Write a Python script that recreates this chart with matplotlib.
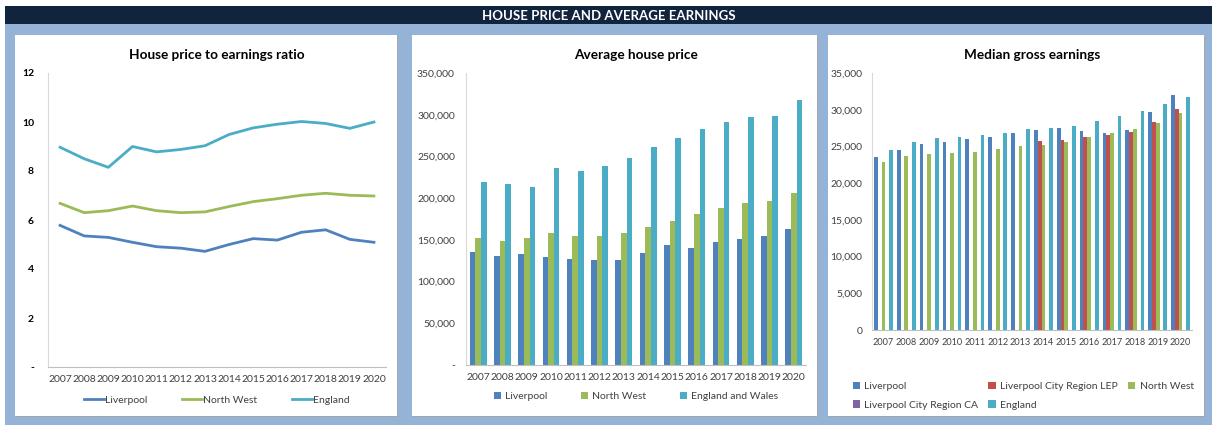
import numpy as np
import matplotlib
matplotlib.use("Agg")
import matplotlib.pyplot as plt
from matplotlib.patches import Rectangle
import matplotlib.ticker as mtick

plt.rcParams['font.family'] = ['Lato', 'DejaVu Sans']

# data
years = [str(y) for y in range(2007, 2021)]

ratio_liverpool = [5.78, 5.35, 5.29, 5.09, 4.91, 4.85, 4.72, 5.00, 5.24, 5.18, 5.50, 5.60, 5.21, 5.09]
ratio_nw = [6.68, 6.30, 6.38, 6.57, 6.38, 6.30, 6.33, 6.55, 6.75, 6.87, 7.01, 7.09, 7.01, 6.98]
ratio_england = [8.97, 8.50, 8.15, 9.00, 8.78, 8.88, 9.03, 9.49, 9.76, 9.91, 10.02, 9.94, 9.74, 10.00]

price_liverpool = [136000, 130800, 133200, 129600, 127200, 126400, 126400, 134000, 144000, 140000, 147600, 151600, 154400, 163200]
price_nw = [152400, 149200, 152400, 158400, 154400, 154800, 158400, 165200, 172800, 180400, 188000, 194000, 196800, 206400]
price_ew = [219200, 217200, 213200, 236000, 232400, 238400, 247600, 261200, 272000, 282800, 291200, 297200, 298800, 318000]

earn_liverpool = [23590, 24500, 25270, 25640, 26050, 26230, 26770, 27180, 27550, 27090, 26860, 27270, 29680, 32050]
earn_lep = [np.nan] * 7 + [25770, 25910, 26270, 26590, 26950, 28320, 30140]
earn_nw = [22910, 23730, 24000, 24140, 24230, 24590, 25090, 25230, 25640, 26230, 26820, 27410, 28140, 29590]
earn_ca = [np.nan] * 14
earn_england = [24500, 25550, 26140, 26320, 26500, 26770, 27360, 27450, 27820, 28500, 29090, 29860, 30730, 31770]

C_LIV = '#4F81BD'
C_LEP = '#C0504D'
C_NW = '#9BBB59'
C_CA = '#8064A2'
C_ENG = '#4BACC6'
TXT = '#404040'

W, H = 1212, 425
fig = plt.figure(figsize=(W / 100, H / 100), dpi=100)
fig.patch.set_facecolor('white')


def box(x0, y0, x1, y1):
    # pixel box -> figure fraction [l, b, w, h]
    return [x0 / W, 1 - y1 / H, (x1 - x0) / W, (y1 - y0) / H]


def rect(x0, y0, x1, y1, **kw):
    l, b, w, h = box(x0, y0, x1, y1)
    fig.patches.append(Rectangle((l, b), w, h, transform=fig.transFigure, **kw))


# background, header and panels (below the axes)
rect(5, 24, W, H, facecolor='#95B3D7', edgecolor='none', zorder=-4)
rect(5, 6, W, 24, facecolor='#10243E', edgecolor='none', zorder=-3)
fig.text((5 + W) / 2 / W, 1 - 15.5 / H, 'HOUSE PRICE AND AVERAGE EARNINGS', color='white',
         fontsize=9.5, fontweight='bold', ha='center', va='center')
for x0, x1 in [(15, 397), (412, 817), (828, 1204)]:
    rect(x0 + 1, 36, x1 + 1, 417, facecolor='#A6A6A6', edgecolor='none', zorder=-3)
    rect(x0, 35, x1, 416, facecolor='white', edgecolor='none', zorder=-2)


def style(ax, ypad, xpad=6, xsize=7.5):
    ax.set_facecolor('none')
    for s in ['top', 'right']:
        ax.spines[s].set_visible(False)
    ax.spines['left'].set_color('#D9D9D9')
    ax.spines['bottom'].set_color('#BFBFBF')
    ax.tick_params(length=0, labelsize=7.5, colors=TXT)
    ax.tick_params(axis='y', pad=ypad)
    ax.tick_params(axis='x', pad=xpad, labelsize=xsize)
    ax.set_xlim(-0.5, 13.5)
    ax.set_xticks(range(14))
    ax.set_xticklabels(years)


x = np.arange(14)

# panel 1 - ratio
ax1 = fig.add_axes(box(48, 73, 386, 367))
style(ax1, 10)
ax1.plot(x, ratio_liverpool, color=C_LIV, lw=2, label='Liverpool')
ax1.plot(x, ratio_nw, color=C_NW, lw=2, label='North West')
ax1.plot(x, ratio_england, color=C_ENG, lw=2, label='England')
ax1.set_ylim(0, 12)
ax1.set_yticks(range(0, 13, 2))
ax1.set_yticklabels(['-'] + [str(v) for v in range(2, 13, 2)], fontweight='bold', color='black')
ax1.set_title('House price to earnings ratio', fontsize=9.8, fontweight='bold', pad=10)
ax1.legend(loc='upper center', bbox_to_anchor=(0.5, -0.065), ncol=3, frameon=False,
           fontsize=7.5, handlelength=1.9, columnspacing=3.3, handletextpad=0.15, labelcolor=TXT)

# panel 2 - house price
ax2 = fig.add_axes(box(466, 73, 806, 365))
style(ax2, 8)
bw = 0.23
ax2.bar(x - bw, price_liverpool, bw, color=C_LIV, label='Liverpool')
ax2.bar(x, price_nw, bw, color=C_NW, label='North West')
ax2.bar(x + bw, price_ew, bw, color=C_ENG, label='England and Wales')
ax2.set_ylim(0, 350000)
ax2.set_yticks(range(0, 350001, 50000))
ax2.yaxis.set_major_formatter(mtick.FuncFormatter(lambda v, p: '-' if v == 0 else '{:,.0f}'.format(v)))
ax2.set_title('Average house price', fontsize=9.8, fontweight='bold', pad=10)
ax2.legend(loc='upper center', bbox_to_anchor=(0.5, -0.06), ncol=3, frameon=False,
           fontsize=7.5, handlelength=0.7, handleheight=0.7, columnspacing=3.2,
           handletextpad=0.4, labelcolor=TXT)

# panel 3 - earnings
ax3 = fig.add_axes(box(872, 73, 1192, 330))
style(ax3, 7, xsize=6.6)
bw = 0.166
s1 = ax3.bar(x - 2 * bw, earn_liverpool, bw, color=C_LIV, label='Liverpool')
s2 = ax3.bar(x - bw, earn_lep, bw, color=C_LEP, label='Liverpool City Region LEP')
s3 = ax3.bar(x, earn_nw, bw, color=C_NW, label='North West')
s4 = ax3.bar(x + bw, earn_ca, bw, color=C_CA, label='Liverpool City Region CA')
s5 = ax3.bar(x + 2 * bw, earn_england, bw, color=C_ENG, label='England')
ax3.set_ylim(0, 35000)
ax3.set_yticks(range(0, 35001, 5000))
ax3.yaxis.set_major_formatter(mtick.StrMethodFormatter('{x:,.0f}'))
ax3.set_title('Median gross earnings', fontsize=9.8, fontweight='bold', pad=10)
ax3.legend([s1, s4, s2, s5, s3],
           ['Liverpool', 'Liverpool City Region CA', 'Liverpool City Region LEP', 'England', 'North West'],
           loc='upper left', bbox_to_anchor=(-0.09, -0.165), ncol=3, frameon=False,
           fontsize=7.5, handlelength=0.7, handleheight=0.7, columnspacing=1.0,
           handletextpad=0.4, labelcolor=TXT, labelspacing=0.9)

fig.savefig('out.png', dpi=100, facecolor='white')
